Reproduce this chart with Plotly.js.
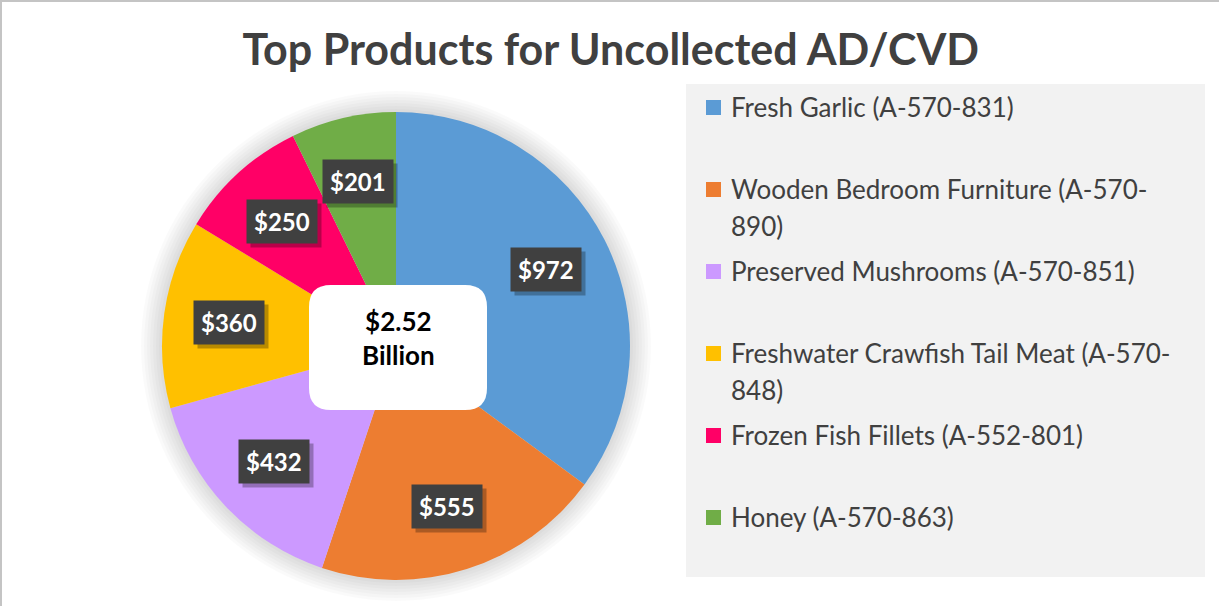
<!DOCTYPE html>
<html><head><meta charset="utf-8">
<script src="https://cdn.plot.ly/plotly-3.0.1.min.js"></script>
<style>body{margin:0;background:#fff}</style></head>
<body><div id="chart" style="width:1219px;height:606px"></div>
<script>
// ---- data ----
const products = [
  "Fresh Garlic (A-570-831)",
  "Wooden Bedroom Furniture (A-570-890)",
  "Preserved Mushrooms (A-570-851)",
  "Freshwater Crawfish Tail Meat (A-570-848)",
  "Frozen Fish Fillets (A-552-801)",
  "Honey (A-570-863)"
];
const legendLabels = [
  "Fresh Garlic (A-570-831)",
  "Wooden Bedroom Furniture (A-570-<br>890)",
  "Preserved Mushrooms (A-570-851)",
  "Freshwater Crawfish Tail Meat (A-570-<br>848)",
  "Frozen Fish Fillets (A-552-801)",
  "Honey (A-570-863)"
];
const values = [972, 555, 432, 360, 250, 201];
const colors = ["#5B9BD5", "#ED7D31", "#CC99FF", "#FFC000", "#FF0066", "#70AD47"];
const chartTitle = "Top Products for Uncollected AD/CVD";
const centerLabel = "$2.52<br>Billion";

// ---- geometry ----
const W = 1219, H = 606;
const px = x => x / W, py = y => 1 - y / H;
const cx = 396, cy = 346, R = 234;
const FONT = "Lato, 'Open Sans', sans-serif";

const shapes = [];
const annotations = [];

// outer frame (top and left edges only)
shapes.push({type:'line', xref:'paper', yref:'paper', x0:0, x1:1, y0:py(1), y1:py(1),
  line:{color:'#c4c4c4', width:2}, layer:'below'});
shapes.push({type:'line', xref:'paper', yref:'paper', x0:px(1), x1:px(1), y0:0, y1:1,
  line:{color:'#c4c4c4', width:2}, layer:'below'});

// soft shadow around pie
for (let k = 7; k >= 1; k--) {
  const r = R + k * 3;
  shapes.push({type:'circle', xref:'paper', yref:'paper', layer:'below',
    x0:px(cx - r), x1:px(cx + r), y0:py(cy + r), y1:py(cy - r),
    fillcolor:'rgba(0,0,0,0.018)', line:{width:0}});
}

// legend box
const lg = {x0:686, x1:1205, y0:84, y1:577};
shapes.push({type:'rect', xref:'paper', yref:'paper', layer:'below',
  x0:px(lg.x0), x1:px(lg.x1), y0:py(lg.y1), y1:py(lg.y0),
  fillcolor:'#F2F2F2', line:{width:0}});
legendLabels.forEach((lab, i) => {
  const y = 107 + i * 82;
  shapes.push({type:'rect', xref:'paper', yref:'paper',
    x0:px(706), x1:px(721), y0:py(y + 8), y1:py(y - 7),
    fillcolor:colors[i], line:{width:0}});
  lab.split('<br>').forEach((line, j) => {
    annotations.push({xref:'paper', yref:'paper', x:px(729), y:py(y + j * 37),
      xanchor:'left', yanchor:'middle', showarrow:false, text:line,
      font:{family:FONT, size:26, color:'#404040'}});
  });
});

// data labels (boxes) at slice mid-angles
const total = values.reduce((a, b) => a + b, 0);
const labelIdx = [];
let acc = 0;
values.forEach((v, i) => {
  const mid = (acc + v / 2) / total * 2 * Math.PI;
  acc += v;
  const rr = R * 0.72;
  const x = cx + rr * Math.sin(mid), y = cy - rr * Math.cos(mid);
  labelIdx.push(annotations.length);
  annotations.push({xref:'paper', yref:'paper', x:px(x), y:py(y),
    xanchor:'center', yanchor:'middle',
    showarrow:false, text:'<b>$' + v + '</b>', bgcolor:'#404040', borderpad:7,
    font:{family:FONT, size:24, color:'#FFFFFF'}});
});

// center rounded box
const b = {x0:309, x1:487, y0:285, y1:410, r:22};
const P = (x, y) => px(x) + ',' + py(y);
shapes.push({type:'path', xref:'paper', yref:'paper', layer:'above',
  path: 'M' + P(b.x0 + b.r, b.y0) + ' L' + P(b.x1 - b.r, b.y0) +
        ' Q' + P(b.x1, b.y0) + ' ' + P(b.x1, b.y0 + b.r) +
        ' L' + P(b.x1, b.y1 - b.r) +
        ' Q' + P(b.x1, b.y1) + ' ' + P(b.x1 - b.r, b.y1) +
        ' L' + P(b.x0 + b.r, b.y1) +
        ' Q' + P(b.x0, b.y1) + ' ' + P(b.x0, b.y1 - b.r) +
        ' L' + P(b.x0, b.y0 + b.r) +
        ' Q' + P(b.x0, b.y0) + ' ' + P(b.x0 + b.r, b.y0) + ' Z',
  fillcolor:'#FFFFFF', line:{width:0}});
annotations.push({xref:'paper', yref:'paper', x:px(398), y:py(338),
  xanchor:'center', yanchor:'middle', align:'center',
  showarrow:false, text:'<b>' + centerLabel + '</b>',
  font:{family:FONT, size:26, color:'#000000'}});

const trace = {
  type:'pie', labels:products, values:values, sort:false,
  direction:'clockwise', rotation:0,
  marker:{colors:colors, line:{width:0}},
  textinfo:'none', hoverinfo:'label+value',
  domain:{x:[px(cx - R), px(cx + R)], y:[py(cy + R), py(cy - R)]},
  showlegend:false
};

const layout = {
  width:W, height:H,
  margin:{l:0, r:0, t:0, b:0},
  paper_bgcolor:'#FFFFFF',
  title:{text:'<b>' + chartTitle + '</b>', x:0.501, xref:'paper', y:py(50), yref:'paper',
    xanchor:'center', yanchor:'middle',
    font:{family:FONT, size:43, color:'#404040'}},
  showlegend:false,
  shapes:shapes,
  annotations:annotations
};

Plotly.newPlot('chart', [trace], layout, {displayModeBar:false, staticPlot:true}).then(gd => {
  // drop shadows behind the data label boxes, measured from the rendered boxes
  const root = gd.getBoundingClientRect();
  const extra = [];
  labelIdx.forEach(idx => {
    const g = gd.querySelector('.annotation[data-index="' + idx + '"] rect.bg');
    if (!g) return;
    const r = g.getBoundingClientRect();
    const x0 = r.left - root.left + 4, x1 = r.right - root.left + 4;
    const y0 = r.top - root.top + 4, y1 = r.bottom - root.top + 4;
    extra.push({type:'rect', xref:'paper', yref:'paper', layer:'above',
      x0:px(x0), x1:px(x1), y0:py(y1), y1:py(y0),
      fillcolor:'rgba(0,0,0,0.28)', line:{width:0}});
  });
  if (extra.length) Plotly.relayout(gd, {shapes: shapes.concat(extra)});
});
</script>
</body></html>
